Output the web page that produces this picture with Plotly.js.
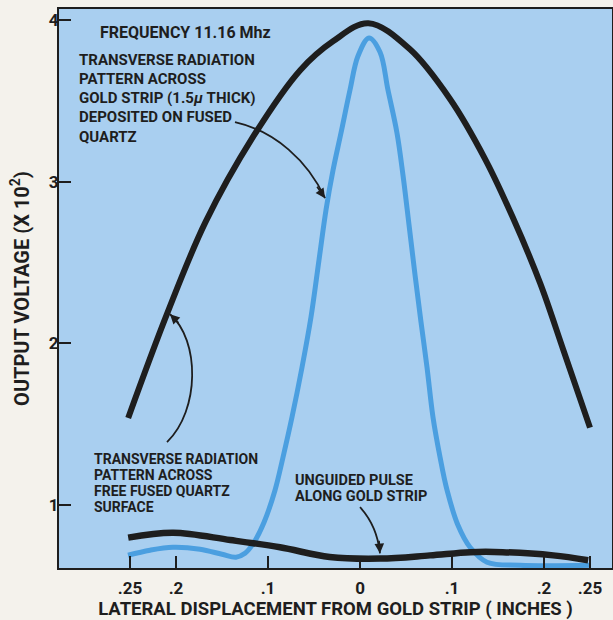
<!DOCTYPE html>
<html>
<head>
<meta charset="utf-8">
<script src="https://cdn.plot.ly/plotly-3.0.1.min.js"></script>
<style>html,body{margin:0;padding:0;background:#f4f2ec;}</style>
</head>
<body>
<div id="chart" style="width:613px;height:620px;"></div>
<script>
// Lateral displacement (inches; negative = left of strip) and output voltage (x10^2)
const freeQuartzX = [-0.252,-0.210,-0.168,-0.116,-0.065,-0.029,0.009,0.054,0.098,0.136,0.166,0.196,0.221,0.250];
const freeQuartzY = [1.54,2.18,2.75,3.28,3.69,3.87,3.98,3.82,3.51,3.14,2.78,2.37,1.96,1.48];

const goldStripX = [-0.2522,-0.2283,-0.2033,-0.1739,-0.1500,-0.1348,-0.1250,-0.1152,-0.1043,-0.0924,-0.0837,-0.0739,-0.0630,-0.0533,-0.0446,-0.0370,-0.0293,-0.0207,-0.0109,-0.0022,0.0098,0.0217,0.0304,0.0402,0.0467,0.0533,0.0598,0.0663,0.0728,0.0793,0.0870,0.0946,0.1065,0.1196,0.1380,0.1739,0.2500];
const goldStripY = [0.691,0.722,0.740,0.728,0.697,0.679,0.703,0.771,0.895,1.093,1.297,1.545,1.854,2.163,2.516,2.825,3.072,3.301,3.567,3.777,3.889,3.802,3.567,3.301,3.041,2.732,2.423,2.132,1.854,1.545,1.297,1.093,0.876,0.740,0.648,0.629,0.629];

const unguidedX = [-0.252,-0.203,-0.141,-0.087,-0.033,0.022,0.076,0.120,0.155,0.210,0.248];
const unguidedY = [0.80,0.83,0.785,0.74,0.68,0.67,0.69,0.71,0.71,0.69,0.66];

const tickVals = [-0.25,-0.2,-0.1,0,0.1,0.2,0.25];
const tickLabels = ['.25','.2','.1','0','.1','.2','.25'];
const yTickVals = [1,2,3,4];
const yTickLabels = ['1','2','3','4'];

const FONT = 'Roboto, sans-serif';
const INK = '#1e1e1e';
const BLUE = '#4b9fe0';

const traces = [
  {x: freeQuartzX, y: freeQuartzY, mode:'lines', line:{color:INK, width:6, shape:'spline', smoothing:1}, name:'Free fused quartz'},
  {x: goldStripX, y: goldStripY, mode:'lines', line:{color:BLUE, width:5, shape:'spline', smoothing:1}, name:'Gold strip'},
  {x: unguidedX, y: unguidedY, mode:'lines', line:{color:INK, width:6.5, shape:'spline', smoothing:1}, name:'Unguided pulse'}
];

function lbl(text, x, y, size) {
  return {text:text, x:x, y:y, xref:'x', yref:'y', xanchor:'left', yanchor:'middle', showarrow:false,
          font:{family:FONT, size:size, color:INK, weight:'bold'}};
}
function head(x, y, ax, ay) {
  return {text:'', x:x, y:y, xref:'x', yref:'y', ax:ax, ay:ay, showarrow:true, arrowhead:2, arrowsize:1.2,
          arrowwidth:1.6, arrowcolor:INK, standoff:0};
}

const annotations = [
  lbl('FREQUENCY 11.16 Mhz', -0.285, 3.92, 16),
  lbl('TRANSVERSE RADIATION', -0.308, 3.753, 15),
  lbl('PATTERN ACROSS', -0.308, 3.635, 15),
  lbl('GOLD STRIP (1.5<i>μ</i> THICK)', -0.308, 3.517, 15),
  lbl('DEPOSITED ON FUSED', -0.308, 3.400, 15),
  lbl('QUARTZ', -0.308, 3.276, 15),
  lbl('TRANSVERSE RADIATION', -0.2913, 1.285, 14),
  lbl('PATTERN ACROSS', -0.2913, 1.186, 14),
  lbl('FREE FUSED QUARTZ', -0.2913, 1.087, 14),
  lbl('SURFACE', -0.2913, 0.988, 14),
  lbl('UNGUIDED PULSE', -0.0728, 1.155, 14.5),
  lbl('ALONG GOLD STRIP', -0.0728, 1.056, 14.5),
  head(-0.038, 2.898, -9, -13),
  head(-0.2065, 2.181, 10, 10),
  head(0.0217, 0.703, -1, -14)
];

const shapes = [
  {type:'path', xref:'x', yref:'y', path:'M -0.1359,3.369 C -0.0924,3.313 -0.0565,3.128 -0.038,2.898', line:{color:INK, width:1.8}},
  {type:'path', xref:'x', yref:'y', path:'M -0.2098,1.390 C -0.1739,1.588 -0.1739,2.021 -0.2065,2.181', line:{color:INK, width:1.8}},
  {type:'path', xref:'x', yref:'y', path:'M 0,0.988 C 0.013,0.907 0.0196,0.815 0.0217,0.703', line:{color:INK, width:1.8}}
];

const layout = {
  width:613, height:620,
  margin:{l:59, r:1, t:9, b:52},
  paper_bgcolor:'#f4f2ec',
  plot_bgcolor:'#a9cff0',
  showlegend:false,
  font:{family:FONT, color:INK},
  xaxis:{
    range:[-0.3272, 0.2739], tickmode:'array', tickvals:tickVals, ticktext:tickLabels,
    ticks:'inside', ticklen:12, tickwidth:2, tickcolor:INK,
    showline:true, linecolor:INK, linewidth:2, mirror:true,
    showgrid:false, zeroline:false, ticklabelstandoff:4,
    tickfont:{family:FONT, size:17, color:INK, weight:'bold'},
    title:{text:'LATERAL DISPLACEMENT FROM GOLD STRIP ( INCHES )', standoff:6,
           font:{family:FONT, size:18.5, color:INK, weight:'bold'}}
  },
  yaxis:{
    range:[0.612, 4.068], tickmode:'array', tickvals:yTickVals, ticktext:yTickLabels,
    ticks:'inside', ticklen:12, tickwidth:2, tickcolor:INK,
    showline:true, linecolor:INK, linewidth:2, mirror:true,
    showgrid:false, zeroline:false, ticklabelstandoff:-5,
    tickfont:{family:FONT, size:17, color:INK, weight:'bold'},
    title:{text:'\u00a0\u00a0\u00a0\u00a0\u00a0\u00a0OUTPUT VOLTAGE (X 10<sup>2</sup>)', standoff:14,
           font:{family:FONT, size:20, color:INK, weight:'bold'}}
  },
  annotations:annotations,
  shapes:shapes
};

Plotly.newPlot('chart', traces, layout, {displayModeBar:false, staticPlot:true});
</script>
</body>
</html>
